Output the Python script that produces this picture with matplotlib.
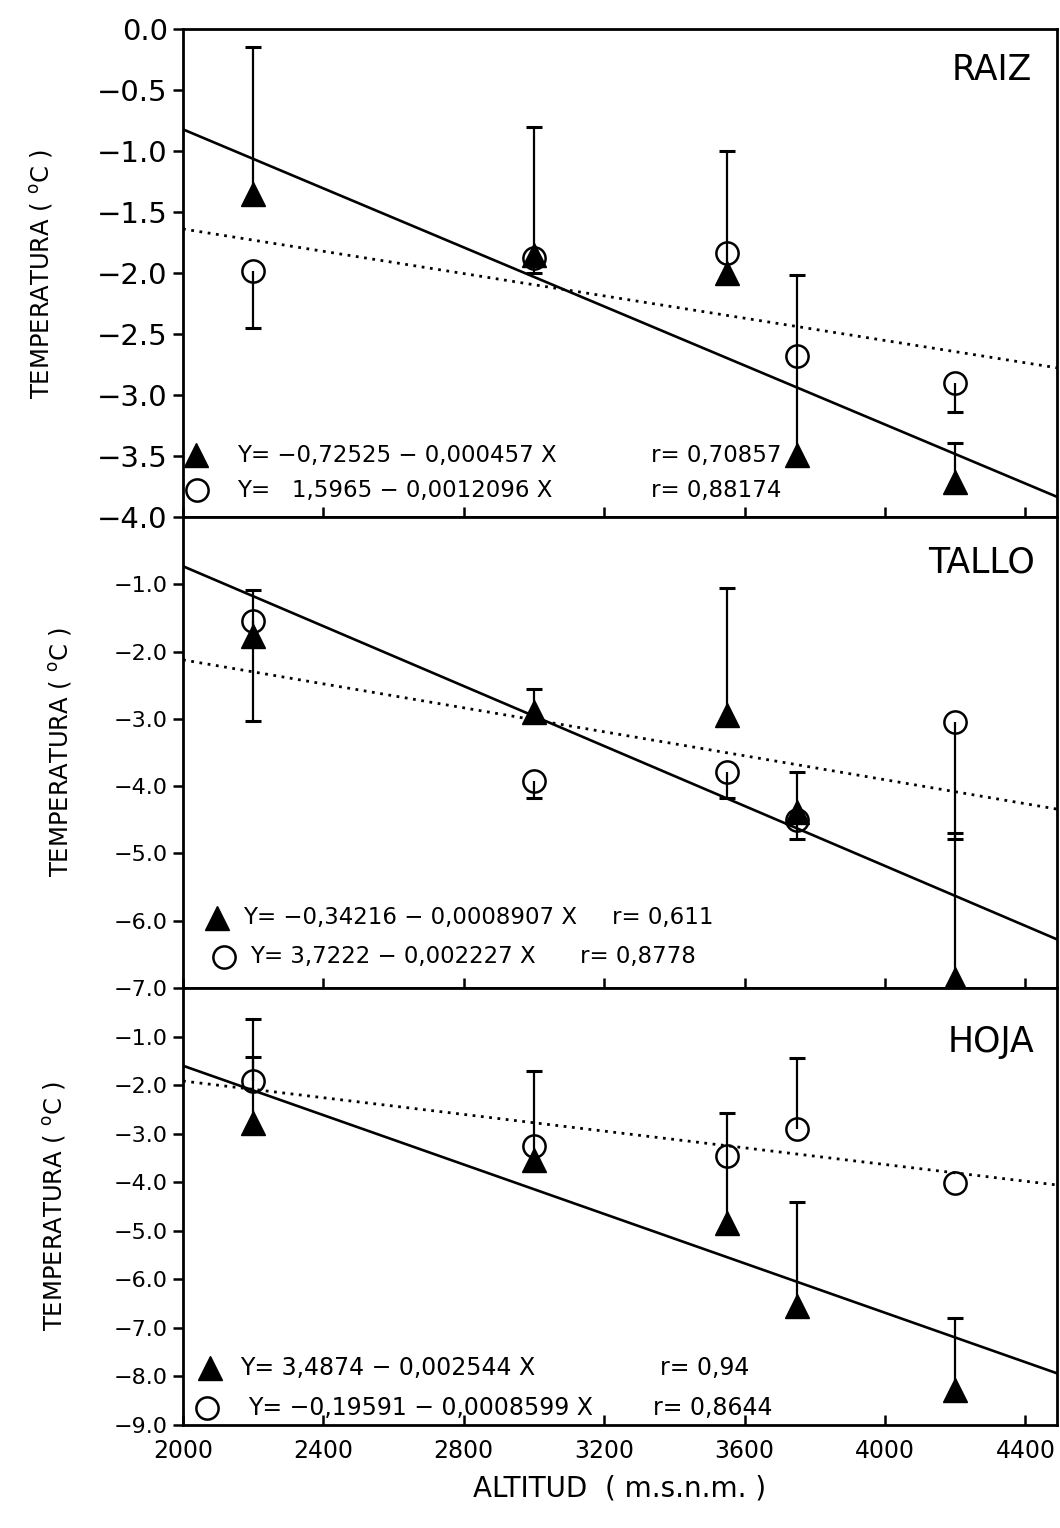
import matplotlib
matplotlib.use("Agg")
import matplotlib.pyplot as plt
import numpy as np

# altitudes of the sampling sites (m.s.n.m.)
altitud = [2200, 3000, 3550, 3750, 4200]

# RAIZ: mean temperature and the end of each error bar
raiz_tri = [-1.35, -1.85, -2.00, -3.49, -3.71]
raiz_tri_end = [-0.15, -0.80, -1.00, -2.02, -3.39]
raiz_cir = [-1.98, -1.88, -1.84, -2.68, -2.90]
raiz_cir_end = [-2.45, -2.00, -1.84, -2.68, -3.14]

# TALLO
tallo_tri = [-1.77, -2.90, -2.95, -4.38, -6.87]
tallo_tri_end = [-1.09, -2.56, -1.06, -3.79, -4.70]
tallo_cir = [-1.55, -3.93, -3.79, -4.50, -3.05]
tallo_cir_end = [-3.03, -4.17, -4.18, -4.79, -4.79]

# HOJA
hoja_tri = [-2.78, -3.55, -4.85, -6.55, -8.28]
hoja_tri_end = [-1.43, -1.71, -2.57, -4.40, -6.80]
hoja_cir = [-1.92, -3.25, -3.45, -2.90, -4.02]
hoja_cir_end = [-0.63, -3.25, -3.45, -1.45, -4.02]

# regression coefficients (a + b*X) and the printed equations
raiz_tri_fit = (-0.72525, -0.000457)
raiz_cir_fit = (1.5965, -0.0012096)
tallo_tri_fit = (-0.34216, -0.0008907)
tallo_cir_fit = (3.7222, -0.002227)
hoja_tri_fit = (3.4874, -0.002544)
hoja_cir_fit = (-0.19591, -0.0008599)

raiz_eq = ["Y= −0,72525 − 0,000457 X", "Y=   1,5965 − 0,0012096 X"]
raiz_r = ["r= 0,70857", "r= 0,88174"]
tallo_eq = ["Y= −0,34216 − 0,0008907 X", "Y= 3,7222 − 0,002227 X"]
tallo_r = ["r= 0,611", "r= 0,8778"]
hoja_eq = ["Y= 3,4874 − 0,002544 X", "Y= −0,19591 − 0,0008599 X"]
hoja_r = ["r= 0,94", "r= 0,8644"]

W, H = 1060, 1528
fig = plt.figure(figsize=(W / 100, H / 100), dpi=100)

x0, x1 = 2000, 4490


def make_axes(top, bottom):
    return fig.add_axes([183 / W, 1 - bottom / H, 874 / W, (bottom - top) / H])


def draw_points(ax, tri, tri_end, cir, cir_end):
    x = np.array(altitud)
    for vals, ends in ((tri, tri_end), (cir, cir_end)):
        vals = np.array(vals)
        ends = np.array(ends)
        show = np.abs(ends - vals) > 0.02
        ax.vlines(x[show], vals[show], ends[show], color="black", lw=1.6, zorder=2)
        ax.plot(x[show], ends[show], "_", color="black", ms=11, mew=2.2, zorder=2)
    ax.plot(altitud, tri, "^", color="black", ms=17, zorder=4, clip_on=False)
    ax.plot(altitud, cir, "o", mfc="none", mec="black", ms=16, mew=1.8, zorder=4)


def draw_fit(ax, fit, style):
    xs = np.array([x0, x1])
    ys = fit[0] + fit[1] * xs
    if style == "solid":
        ax.plot(xs, ys, color="black", lw=1.9, zorder=3)
    else:
        ax.plot(xs, ys, color="black", lw=2.0, ls=(0, (1, 2)), zorder=3)


def draw_legend(ax, pos, eqs, rs, size):
    # pos: (marker x, marker y, text x, r x) per row, in axes fraction
    for i, (mx, my, tx, rx) in enumerate(pos):
        if i == 0:
            ax.plot(mx, my, "^", color="black", ms=17, transform=ax.transAxes, clip_on=False)
        else:
            ax.plot(mx, my, "o", mfc="none", mec="black", ms=16, mew=1.8,
                    transform=ax.transAxes, clip_on=False)
        ax.text(tx, my, eqs[i], transform=ax.transAxes, fontsize=size, va="center", ha="left")
        ax.text(rx, my, rs[i], transform=ax.transAxes, fontsize=size, va="center", ha="left")


def style_axes(ax, ylim, yticks, tick_size, xlabels):
    ax.set_xlim(x0, x1)
    ax.set_ylim(*ylim)
    ax.set_yticks(yticks)
    ax.set_yticklabels([("%.1f" % v).replace("-", "−") for v in yticks])
    ax.set_xticks([2000, 2400, 2800, 3200, 3600, 4000, 4400])
    ax.tick_params(axis="y", direction="out", length=7, width=1.8, labelsize=tick_size, pad=4)
    ax.tick_params(axis="x", direction="in", length=7, width=1.8, labelsize=17, pad=10,
                   labelbottom=xlabels)
    for s in ax.spines.values():
        s.set_linewidth(2.0)


# RAIZ
ax1 = make_axes(29, 517)
draw_fit(ax1, raiz_cir_fit, "solid")
draw_fit(ax1, raiz_tri_fit, "dotted")
draw_points(ax1, raiz_tri, raiz_tri_end, raiz_cir, raiz_cir_end)
style_axes(ax1, (-4.0, 0.0), [0.0, -0.5, -1.0, -1.5, -2.0, -2.5, -3.0, -3.5, -4.0], 21, False)
draw_legend(ax1, [(0.015, 0.127, 0.062, 0.535), (0.016, 0.055, 0.062, 0.535)],
            raiz_eq, raiz_r, 16.5)
ax1.text(0.971, 0.916, "RAIZ", transform=ax1.transAxes, fontsize=25, ha="right", va="center")

# TALLO
ax2 = make_axes(517, 988)
draw_fit(ax2, tallo_cir_fit, "solid")
draw_fit(ax2, tallo_tri_fit, "dotted")
draw_points(ax2, tallo_tri, tallo_tri_end, tallo_cir, tallo_cir_end)
style_axes(ax2, (-7.0, 0.0), [-1.0, -2.0, -3.0, -4.0, -5.0, -6.0, -7.0], 16, False)
draw_legend(ax2, [(0.039, 0.149, 0.069, 0.491), (0.047, 0.066, 0.077, 0.454)],
            tallo_eq, tallo_r, 16.5)
ax2.text(0.975, 0.904, "TALLO", transform=ax2.transAxes, fontsize=25, ha="right", va="center")

# HOJA
ax3 = make_axes(988, 1425)
draw_fit(ax3, hoja_tri_fit, "solid")
draw_fit(ax3, hoja_cir_fit, "dotted")
draw_points(ax3, hoja_tri, hoja_tri_end, hoja_cir, hoja_cir_end)
style_axes(ax3, (-9.0, 0.0), [-1.0, -2.0, -3.0, -4.0, -5.0, -6.0, -7.0, -8.0, -9.0], 16, True)
draw_legend(ax3, [(0.031, 0.130, 0.065, 0.546), (0.027, 0.038, 0.074, 0.538)],
            hoja_eq, hoja_r, 17)
ax3.text(0.974, 0.876, "HOJA", transform=ax3.transAxes, fontsize=25, ha="right", va="center")
ax3.set_xlabel("ALTITUD  ( m.s.n.m. )", fontsize=20, labelpad=8)

# y labels, one per panel
ylab = r"TEMPERATURA ( $^{\mathrm{o}}$C )"
fig.text(42 / W, 1 - 274 / H, ylab, rotation=90, ha="center", va="center", fontsize=17.5)
fig.text(60 / W, 1 - 752 / H, ylab, rotation=90, ha="center", va="center", fontsize=17.5)
fig.text(55 / W, 1 - 1206 / H, ylab, rotation=90, ha="center", va="center", fontsize=17.5)

fig.savefig("out.png", dpi=100)
